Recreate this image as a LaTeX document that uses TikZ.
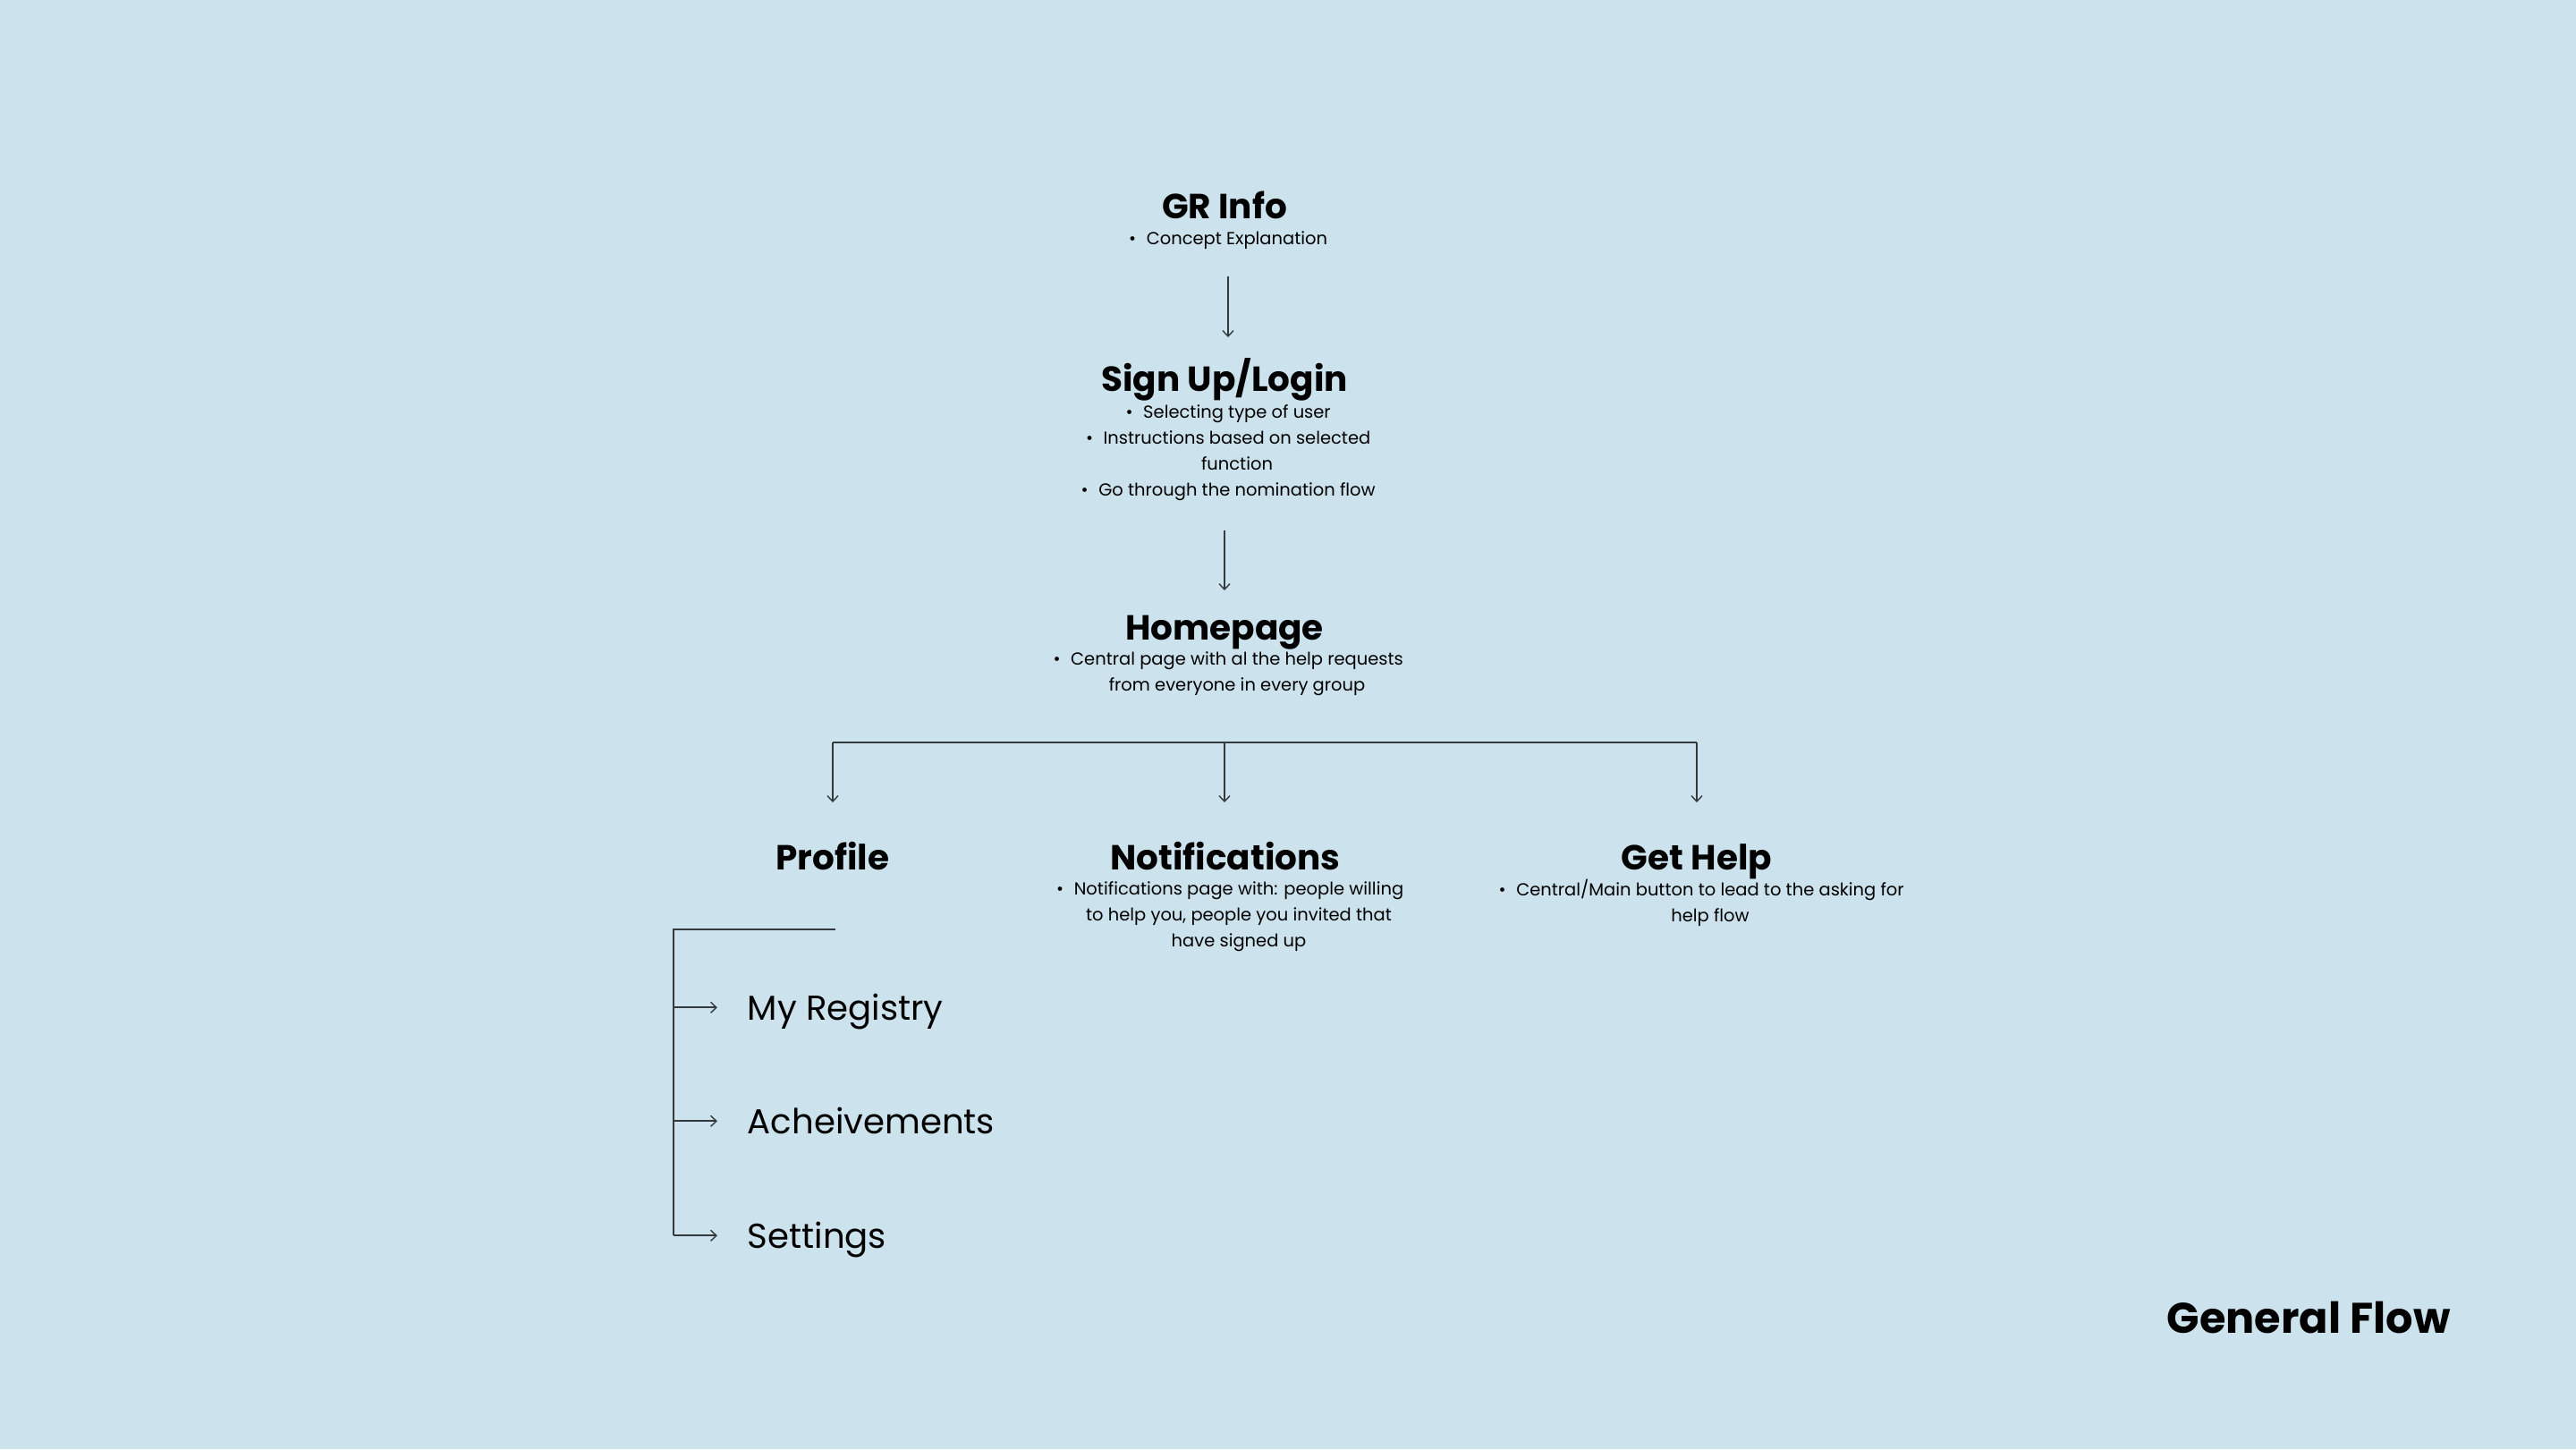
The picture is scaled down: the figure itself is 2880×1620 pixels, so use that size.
\documentclass[tikz,border=0pt]{standalone}
\usepackage{fontspec}
\setmainfont{Poppins}
\usetikzlibrary{arrows.meta}
\definecolor{bgblue}{HTML}{CCE2EC}
\definecolor{lncol}{HTML}{33393D}
\newcommand\bulmark{\llap{•\hspace{3.3pt}}}
\begin{document}
\begin{tikzpicture}[x=0.01cm,y=-0.01cm,
  title/.style={font=\fontsize{11.08}{13}\selectfont\bfseries, inner sep=0pt, anchor=base},
  body/.style={font=\fontsize{5.54}{8.17}\selectfont, inner sep=0pt, anchor=base, align=center},
  item/.style={font=\fontsize{11.0}{13}\selectfont, inner sep=0pt, anchor=base west},
  conn/.style={draw=lncol, line width=0.55pt},
  arr/.style={conn, -{Straight Barb[length=1.8pt,width=3.4pt,line width=0.4pt]}},
]
\fill[bgblue] (0,0) rectangle (2880,1620);
\useasboundingbox (0,0) rectangle (2880,1620);

% top chain (multi-line body nodes: base anchor sits on the last line)
\node[title] (gr) at (1369,244) {GR Info};
\node[body] (grb) at (1383,273) {\bulmark Concept Explanation};
\node[title] (su) at (1369,437) {Sign Up/Login};
\node[body] (sub) at (1383,554) {\bulmark Selecting type of user\\ \bulmark Instructions based on selected\\ function\\ \bulmark Go through the nomination flow};
\node[title] (hp) at (1369,715) {Homepage};
\node[body] (hpb) at (1383,772) {\bulmark Central page with al the help requests\\ from everyone in every group};

\coordinate (a1s) at (1373,309);
\coordinate (a1e) at (1373,377);
\coordinate (a2s) at (1369,593);
\coordinate (a2e) at (1369,660);
\draw[arr] (a1s) -- (a1e);
\draw[arr] (a2s) -- (a2e);

% branches
\node[title] (pr) at (931,972) {Profile};
\node[title] (nt) at (1370,972) {Notifications};
\node[body] (ntb) at (1385,1058) {\bulmark Notifications page with: people willing\\ to help you, people you invited that\\ have signed up};
\node[title] (gh) at (1897,972) {Get Help};
\node[body] (ghb) at (1912,1030) {\bulmark Central/Main button to lead to the asking for\\ help flow};

\coordinate (bar) at (1369,830);
\coordinate (tip) at (1369,897);
\draw[conn] (bar -| pr) -- (bar -| gh);
\draw[arr] (bar -| pr) -- (tip -| pr);
\draw[arr] (bar) -- (tip);
\draw[arr] (bar -| gh) -- (tip -| gh);

% profile sub items
\node[item] (reg) at (835,1140) {My Registry};
\node[item] (ach) at (835,1267) {Acheivements};
\node[item] (set) at (835,1395) {Settings};
\coordinate (brs) at (934,1039);
\coordinate (br) at (753,1039);
\coordinate (regp) at ([yshift=3.9pt]reg.base west);
\coordinate (achp) at ([yshift=3.9pt]ach.base west);
\coordinate (setp) at ([yshift=3.9pt]set.base west);
\draw[conn] (brs) -- (br) -- (br |- setp);
\draw[arr, shorten >=9.4pt] (br |- regp) -- (regp);
\draw[arr, shorten >=9.4pt] (br |- achp) -- (achp);
\draw[arr, shorten >=9.4pt] (br |- setp) -- (setp);

\node[font=\fontsize{13.6}{16}\selectfont\bfseries, inner sep=0pt, anchor=base west] (gf) at (2422,1490) {General Flow};
\end{tikzpicture}
\end{document}
